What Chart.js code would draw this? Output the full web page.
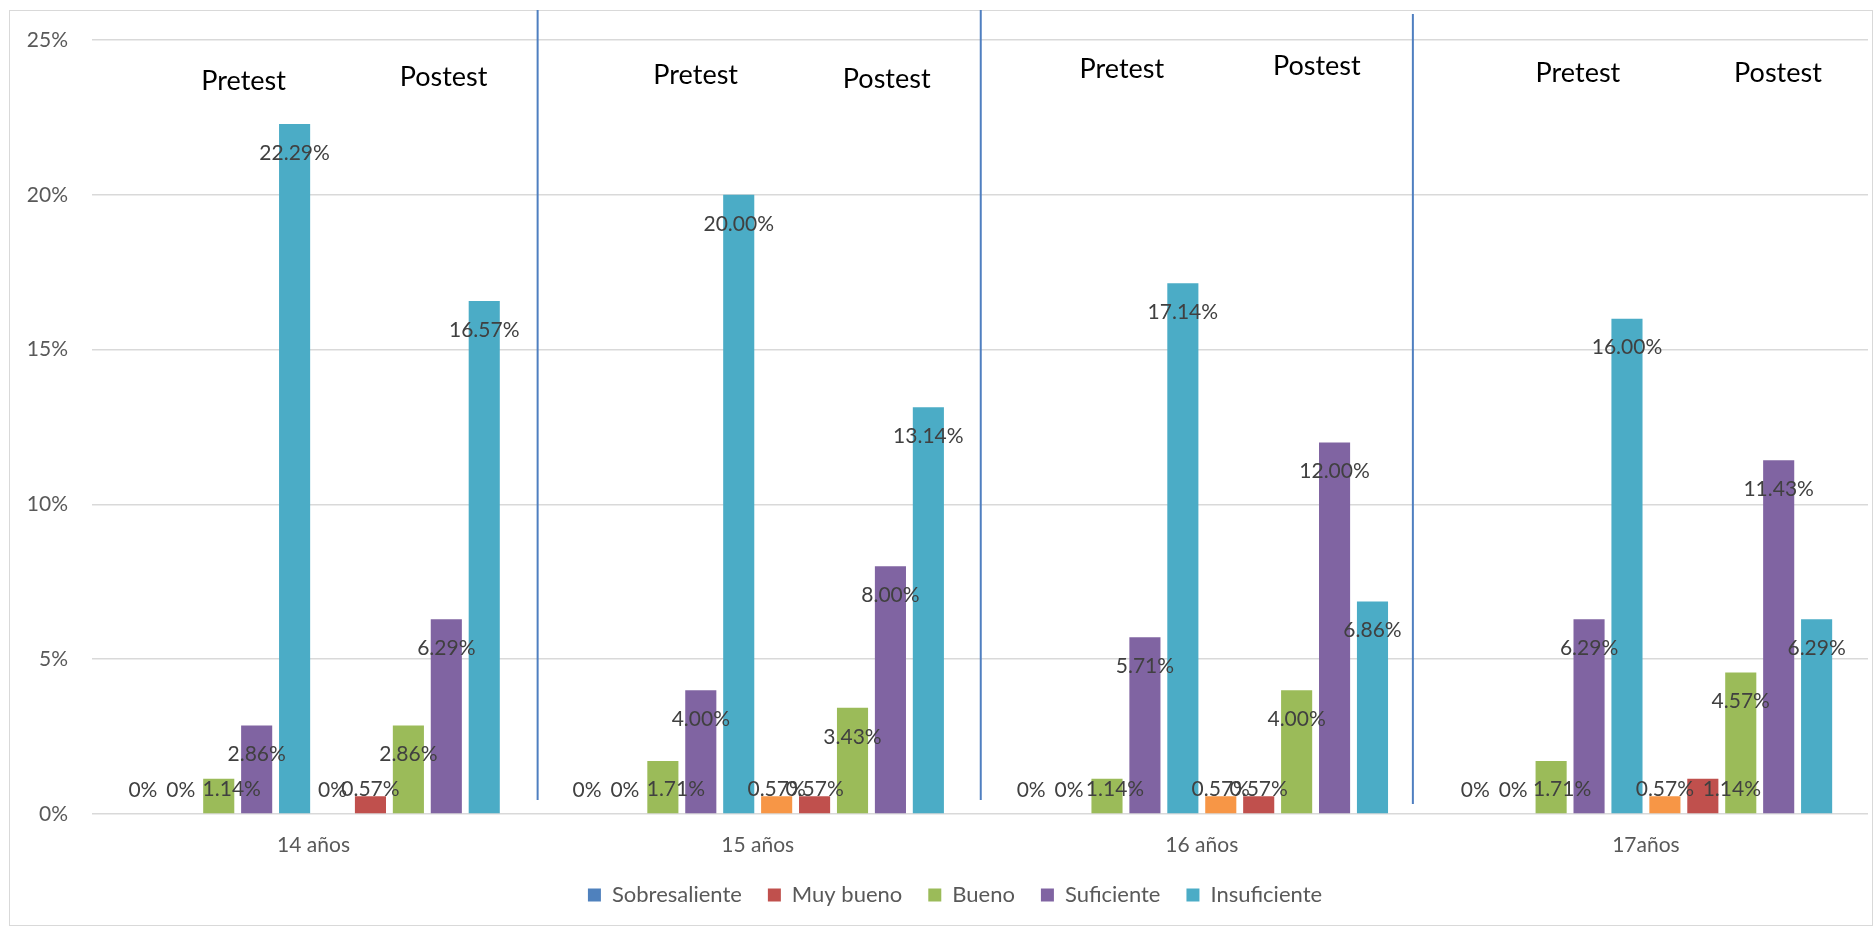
<!DOCTYPE html>
<html>
<head>
<meta charset="utf-8">
<script src="https://cdn.jsdelivr.net/npm/chart.js@4.4.1/dist/chart.umd.min.js"></script>
<style>
  html, body { margin: 0; padding: 0; background: #fff; }
  #marco { position: absolute; left: 9px; top: 10px; width: 1862px; height: 914px; border: 1px solid #d9d9d9; }
  #grafico { position: absolute; left: 0; top: 0; }
</style>
</head>
<body>
<div id="marco"></div>
<canvas id="grafico" width="1876" height="930"></canvas>
<script>
// Datos (porcentajes)

const edades = ["14 años", "15 años", "16 años", "17años"];
const niveles = ["Sobresaliente", "Muy bueno", "Bueno", "Suficiente", "Insuficiente"];

const preSobresaliente = [0, 0, 0, 0];
const preMuyBueno = [0, 0, 0, 0];
const preBueno = [1.14, 1.71, 1.14, 1.71];
const preSuficiente = [2.86, 4.0, 5.71, 6.29];
const preInsuficiente = [22.29, 20.0, 17.14, 16.0];

const postSobresaliente = [0, 0.57, 0.57, 0.57];
const postMuyBueno = [0.57, 0.57, 0.57, 1.14];
const postBueno = [2.86, 3.43, 4.0, 4.57];
const postSuficiente = [6.29, 8.0, 12.0, 11.43];
const postInsuficiente = [16.57, 13.14, 6.86, 6.29];

const ticksY = [0, 5, 10, 15, 20, 25];

const colores = ["#4f81bd", "#c0504d", "#9bbb59", "#8064a2", "#4bacc6"];
const colorNaranja = "#f79646";

const fuente = "Lato";

// Textos Pretest / Postest y separadores (cuadros de texto del original)
const offsetPre = [-70, -62, -80, -68];
const offsetPost = [130, 129, 115, 132];
const altoPre = [81, 75, 69, 73];
const altoPost = [77, 79, 66, 73];
const offsetSeparador = [2, 1, -11];

// etiquetas que en el original estan corridas a la derecha
const corrimientos = { "2-0": 13, "2-1": 13, "2-2": 8, "2-3": 11, "6-3": 29 };

const anotaciones = {
  id: "anotaciones",
  afterLayout(chart) {
    // la leyenda del original esta algo mas arriba y a la derecha
    const lg = chart.legend;
    lg.left += 21;
    lg.right += 21;
    lg.top -= 14;
    lg.bottom -= 14;
  },
  afterDatasetsDraw(chart) {
    const { ctx } = chart;
    const x = chart.scales.x;

    // etiquetas de datos
    ctx.save();
    ctx.font = "21px " + fuente;
    ctx.fillStyle = "#404040";
    ctx.textAlign = "center";
    ctx.textBaseline = "middle";
    chart.data.datasets.forEach((ds, i) => {
      chart.getDatasetMeta(i).data.forEach((bar, j) => {
        const v = ds.data[j];
        const texto = v === 0 ? "0%" : v.toFixed(2) + "%";
        const yTexto = Math.min(bar.y + 29, bar.base - 24);
        const dx = corrimientos[i + "-" + j] || 0;
        ctx.fillText(texto, bar.x + dx, yTexto);
      });
    });

    // lineas separadoras
    ctx.strokeStyle = "#4f7fc0";
    ctx.lineWidth = 2;
    for (let i = 0; i < edades.length - 1; i++) {
      const xb = (x.getPixelForValue(i) + x.getPixelForValue(i + 1)) / 2 + offsetSeparador[i];
      const extra = i === 2 ? 4 : 0;
      ctx.beginPath();
      ctx.moveTo(xb, 10 + extra);
      ctx.lineTo(xb, 800 + extra);
      ctx.stroke();
    }

    // Pretest / Postest
    ctx.font = "27px " + fuente;
    ctx.fillStyle = "#000000";
    for (let i = 0; i < edades.length; i++) {
      const xc = x.getPixelForValue(i);
      ctx.fillText("Pretest", xc + offsetPre[i], altoPre[i]);
      ctx.fillText("Postest", xc + offsetPost[i], altoPost[i]);
    }
    ctx.restore();
  },
};

const series = [
  preSobresaliente, preMuyBueno, preBueno, preSuficiente, preInsuficiente,
  postSobresaliente, postMuyBueno, postBueno, postSuficiente, postInsuficiente,
];

const datasets = series.map((valores, i) => ({
  label: i < 5 ? niveles[i] : niveles[i - 5] + " (Postest)",
  data: valores,
  backgroundColor: i === 5 ? colorNaranja : colores[i % 5],
  categoryPercentage: 0.854,
  barPercentage: 0.82,
}));

const ctx = document.getElementById("grafico");

const chart = new Chart(ctx, {
  type: "bar",
  data: { labels: edades, datasets: datasets },
  options: {
    responsive: false,
    devicePixelRatio: 1,
    animation: false,
    layout: { padding: { left: 0, right: 8, top: 40, bottom: 0 } },
    plugins: {
      tooltip: { enabled: false },
      legend: {
        position: "bottom",
        labels: {
          filter: (item) => item.datasetIndex < 5,
          boxWidth: 13,
          boxHeight: 13,
          padding: 26,
          color: "#595959",
          font: { family: fuente, size: 22 },
        },
      },
    },
    scales: {
      x: {
        grid: { display: false },
        border: { display: false },
        ticks: { color: "#595959", padding: 11, font: { family: fuente, size: 21 } },
        afterFit: (s) => { s.height = 58; },
      },
      y: {
        min: 0,
        max: 25,
        afterBuildTicks: (s) => { s.ticks = ticksY.map((v) => ({ value: v })); },
        grid: { color: "#d9d9d9", lineWidth: 1.5, drawTicks: false },
        border: { display: false },
        ticks: {
          color: "#595959",
          padding: 23.5,
          font: { family: fuente, size: 21 },
          callback: (v) => v + "%",
        },
        afterFit: (s) => { s.width = 91.5; },
      },
    },
  },
  plugins: [anotaciones],
});
</script>
</body>
</html>
